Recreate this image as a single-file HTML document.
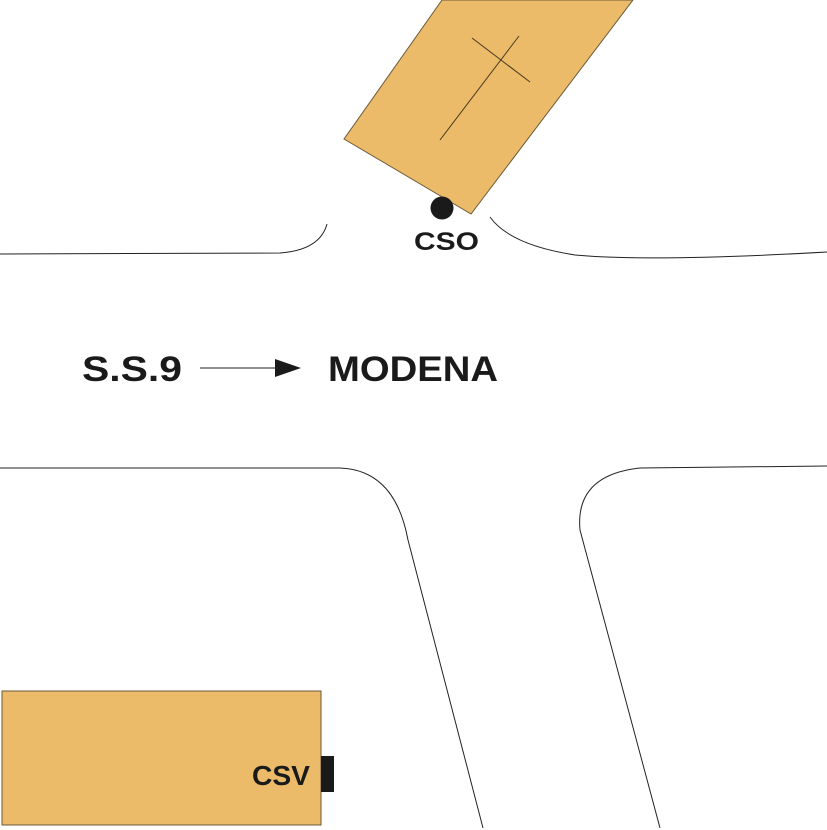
<!DOCTYPE html>
<html><head><meta charset="utf-8"><style>
html,body{margin:0;padding:0;background:#fff;}
svg{display:block}
text{font-family:"Liberation Sans",sans-serif;font-weight:bold;fill:#1a1a1a}
</style></head><body>
<svg width="827" height="830" viewBox="0 0 827 830" xmlns="http://www.w3.org/2000/svg">
<polygon points="442,0 633,0 471,214 344,139" fill="#EBBB6A" stroke="#6b5a3a" stroke-width="1"/>
<line x1="440" y1="140" x2="519" y2="36" stroke="#4a3a20" stroke-width="1"/>
<line x1="472" y1="38" x2="530" y2="82" stroke="#4a3a20" stroke-width="1"/>
<circle cx="442" cy="208" r="11.5" fill="#1a1a1a"/>
<text x="414" y="250" font-size="25" textLength="65" lengthAdjust="spacingAndGlyphs">CSO</text>
<g fill="none" stroke="#222" stroke-width="1">
<path d="M0,254 L280,253 Q320,250 327,224"/>
<path d="M490,217 Q510,245 575,255 Q650,262 827,252"/>
<path d="M0,468 L340,468 Q395,470 408,540 L483,828"/>
<path d="M827,466 L640,468 Q575,475 580,530 L660,828"/>
</g>
<text x="82" y="381" font-size="35" textLength="100" lengthAdjust="spacingAndGlyphs">S.S.9</text>
<line x1="200" y1="368" x2="280" y2="368" stroke="#222" stroke-width="1"/>
<polygon points="275,359 301,368 275,377" fill="#1a1a1a"/>
<text x="328" y="381" font-size="35" textLength="170" lengthAdjust="spacingAndGlyphs">MODENA</text>
<rect x="2" y="691" width="319" height="134" fill="#EBBB6A" stroke="#6b5a3a" stroke-width="1"/>
<rect x="321" y="756" width="13" height="36" fill="#1a1a1a"/>
<text x="252" y="785" font-size="28" textLength="58" lengthAdjust="spacingAndGlyphs">CSV</text>
</svg>
</body></html>
